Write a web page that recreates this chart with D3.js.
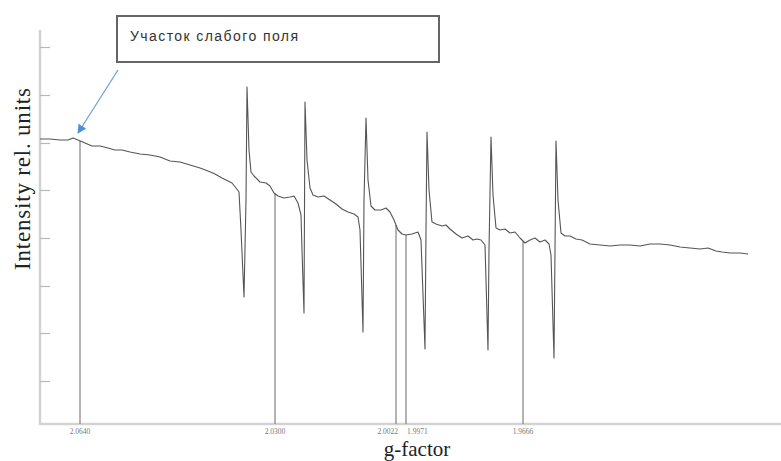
<!DOCTYPE html>
<html><head><meta charset="utf-8">
<script src="https://cdn.jsdelivr.net/npm/d3@7"></script>
<style>html,body{margin:0;padding:0;background:#fff;}</style>
</head><body><svg id="c" width="781" height="461"></svg>
<script>
// Magnetic field (G) and intensity (rel. units) of the EPR spectrum
const field = [3200,3210,3220,3228,3233,3238,3245,3252,3260,3268,3275,3282,3290,3300,3310,3320,3330,3340,3350,3360,3368,3375,3382,3388,3392,3396,3399,3401,3404,3406,3407,3409,3411,3414,3420,3426,3430,3434,3438,3444,3450,3454,3458,3461,3462,3464,3465,3467,3470,3473,3478,3484,3490,3496,3502,3508,3514,3518,3520,3523,3524,3526,3528,3531,3535,3541,3546,3550,3554,3558,3562,3566,3572,3578,3581,3585,3586,3587,3589,3592,3596,3602,3606,3610,3616,3622,3628,3633,3637,3641,3645,3648,3649,3651,3653,3656,3660,3665,3670,3675,3680,3685,3690,3695,3700,3705,3709,3711,3714,3715,3716,3718,3721,3725,3730,3736,3742,3750,3760,3770,3780,3790,3800,3810,3820,3830,3840,3850,3860,3868,3876,3882,3890,3900,3908];
const intensity = [289,289,288,288,290,288,285,282,282,280,278,278,276,274,273,271,267,266,263,260,257,254,250,247,245,240,236,198,131,228,341,278,256,252,246,245,242,235,232,230,231,232,225,213,178,115,326,268,240,233,231,232,228,224,219,216,214,211,198,96,228,310,248,222,218,218,220,216,208,198,194,193,194,196,188,79,198,296,238,206,204,202,203,199,194,190,192,188,189,188,183,78,178,291,233,200,198,199,195,196,190,185,188,190,186,188,184,173,70,178,287,228,195,192,192,189,188,184,183,182,183,183,182,184,184,183,181,180,179,180,177,176,175,175,174];
// marker g-factor positions
const markerField = [3240,3435,3556,3566,3683];
const markerLabels = ["2.0640","2.0300","2.0022","1.9971","1.9666"];
const markerAnchor = ["middle","middle","end","start","middle"];
const yTickValues = [47,95,142,190,238,285,333,381];
const yTitle = "Intensity rel. units";
const xTitle = "g-factor";
const noteText = "Участок слабого поля";

const svg = d3.select("#c");
const x = d3.scaleLinear().domain([3200,3941]).range([40,781]);
const y = d3.scaleLinear().domain([4,398]).range([424,30]);

// axes
svg.append("line").attr("x1",x(3200)).attr("x2",x(3941)).attr("y1",y(4)).attr("y2",y(4))
  .attr("stroke","#d2d2d2").attr("stroke-width",2.5);
svg.append("line").attr("x1",x(3200)).attr("x2",x(3200)).attr("y1",y(4)+1).attr("y2",y(398))
  .attr("stroke","#d2d2d2").attr("stroke-width",2.5);
const yAxis = d3.axisRight(y).tickValues(yTickValues).tickSize(10).tickFormat("");
const ga = svg.append("g").attr("transform",`translate(${x(3200)},0)`).call(yAxis);
ga.select(".domain").remove();
ga.selectAll(".tick line").attr("stroke","#b8b8b8").attr("stroke-width",1.2);

// interpolation of spectrum for marker heights
const bis = d3.bisector(d=>d).left;
function valAt(f){
  const i = Math.max(1, bis(field,f));
  const f0=field[i-1], f1=field[i];
  const t=(f-f0)/(f1-f0);
  return intensity[i-1]+(intensity[i]-intensity[i-1])*t;
}
svg.selectAll(".mk").data(markerField).enter().append("line")
  .attr("x1",d=>x(d)).attr("x2",d=>x(d)).attr("y1",y(4)).attr("y2",d=>y(valAt(d)))
  .attr("stroke","#8a8a8a").attr("stroke-width",1.3);
svg.selectAll(".ml").data(markerField).enter().append("text")
  .attr("x",(d,i)=>x(d)+(markerAnchor[i]==="end"?2:markerAnchor[i]==="start"?1:0)).attr("y",434)
  .attr("text-anchor",(d,i)=>markerAnchor[i])
  .attr("font-family","Liberation Serif").attr("font-size",7.5).attr("fill","#777")
  .text((d,i)=>markerLabels[i]);

// spectrum
const line = d3.line().x((d,i)=>x(field[i])).y(d=>y(d));
svg.append("path").attr("d",line(intensity)).attr("fill","none")
  .attr("stroke","#555").attr("stroke-width",1.1).attr("stroke-linejoin","round");

// titles
svg.append("text").attr("transform","translate(30,179) rotate(-90)").attr("text-anchor","middle")
  .attr("font-family","Liberation Serif").attr("font-size",23).attr("fill","#222")
  .attr("textLength",182).text(yTitle);
svg.append("text").attr("x",417).attr("y",456).attr("text-anchor","middle")
  .attr("font-family","Liberation Serif").attr("font-size",21).attr("fill","#222").text(xTitle);

// annotation
svg.append("rect").attr("x",117).attr("y",16).attr("width",322).attr("height",46)
  .attr("fill","#fff").attr("stroke","#666").attr("stroke-width",2);
svg.append("text").attr("x",130).attr("y",41).attr("font-family","Liberation Sans")
  .attr("font-size",14).attr("fill","#333").attr("textLength",168).text(noteText);
svg.append("defs").append("marker").attr("id","ah").attr("viewBox","0 0 10 10")
  .attr("refX",9).attr("refY",5).attr("markerWidth",7).attr("markerHeight",7).attr("orient","auto")
  .append("path").attr("d","M0,0L10,5L0,10z").attr("fill","#4f8fd6");
svg.append("line").attr("x1",118).attr("y1",70).attr("x2",78).attr("y2",133)
  .attr("stroke","#6fa3dc").attr("stroke-width",1.3).attr("marker-end","url(#ah)");
</script></body></html>
